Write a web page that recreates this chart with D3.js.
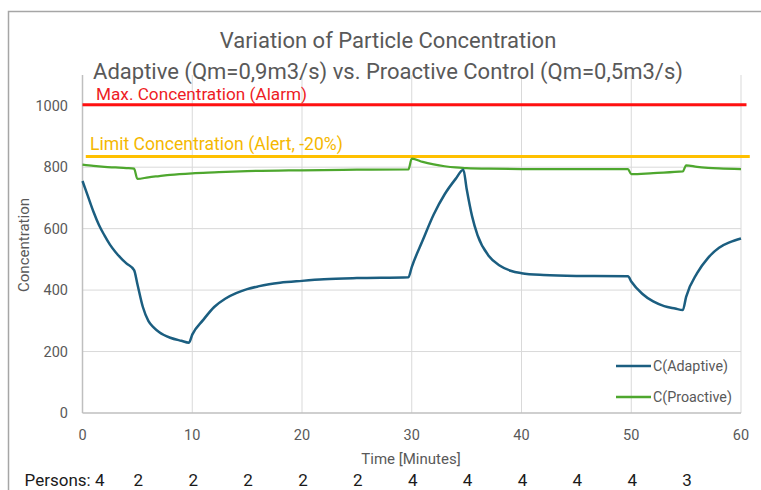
<!DOCTYPE html>
<html>
<head>
<meta charset="utf-8">
<script src="https://cdn.jsdelivr.net/npm/d3@7"></script>
<style>
  body { margin: 0; background: #fff; }
  text { font-family: Roboto, "Noto Sans", sans-serif; }
</style>
</head>
<body>
<svg id="chart" width="761" height="490"></svg>
<script>
// values
const adaptiveT = [0, 0.5, 1, 1.5, 2, 2.5, 3, 3.5, 4, 4.7, 5, 5.5, 6, 6.5, 7, 8, 9, 9.7, 10, 11, 12, 13, 14, 15, 16, 17, 18, 20, 22, 25, 29.7,
  30, 31, 32, 33, 34, 34.7, 35, 35.5, 36, 37, 38, 39, 40, 42, 45, 49.7, 50, 51, 52, 53, 54, 54.7, 55, 56, 57, 58, 59, 60]
const adaptiveC = [755, 705, 655, 612, 578, 548, 524, 504, 487, 465, 420, 345, 300, 278, 263, 245, 235, 229, 255, 303, 345, 372, 390, 403, 412, 419, 424, 430, 435, 439, 442,
  475, 562, 646, 712, 762, 792, 730, 640, 578, 512, 480, 463, 455, 449, 446, 445, 428, 388, 363, 348, 340, 335, 378, 455, 505, 538, 556, 568]

const proactiveT = [0, 1, 2, 3, 4, 4.7, 5, 6, 7, 8, 10, 12, 15, 20, 25, 29.7, 30, 31, 32, 33, 34, 35, 37, 40, 45, 49.7, 50, 52, 54.7, 55, 56, 57, 58, 60]
const proactiveC = [808, 804, 801, 799, 797, 795, 762, 767, 771, 775, 780, 783, 787, 790, 792, 793, 828, 817, 809, 803, 799, 797, 795, 794, 794, 794, 777, 781, 786, 806, 801, 798, 796, 794]

const alarmT = [0, 60.5]
const alarmC = [1003, 1003]
const alertT = [0.3, 60.8]
const alertC = [835, 835]

const xTicks = [0, 10, 20, 30, 40, 50, 60]
const yTicks = [0, 200, 400, 600, 800, 1000]

const personsT = [0, 5, 10, 15, 20, 25, 30, 35, 40, 45, 50, 55]
const persons = [4, 2, 2, 2, 2, 2, 4, 4, 4, 4, 4, 3]

const svg = d3.select('#chart')
const gray = '#595959'

const x = d3.scaleLinear().domain([0, 60]).range([82.5, 741])
const y = d3.scaleLinear().domain([0, 1100]).range([413, 75])

// outer frame (cropped at right/bottom)
svg.append('path')
  .attr('d', 'M8.5,490V11.5H761')
  .attr('fill', 'none')
  .attr('stroke', '#a6a6a6')
  .attr('stroke-width', 1.5)

// grid
svg.append('g').selectAll('line')
  .data(yTicks.slice(1))
  .join('line')
  .attr('x1', x(0)).attr('x2', x(60))
  .attr('y1', d => y(d)).attr('y2', d => y(d))
  .attr('stroke', '#d9d9d9')
svg.append('g').selectAll('line')
  .data(xTicks.slice(1))
  .join('line')
  .attr('x1', d => x(d)).attr('x2', d => x(d))
  .attr('y1', y(1100)).attr('y2', y(0))
  .attr('stroke', '#d9d9d9')

// axis lines
svg.append('line')
  .attr('x1', x(0)).attr('x2', x(0)).attr('y1', y(1100)).attr('y2', y(0))
  .attr('stroke', '#bfbfbf').attr('stroke-width', 1.5)
svg.append('line')
  .attr('x1', x(0)).attr('x2', x(60)).attr('y1', y(0)).attr('y2', y(0))
  .attr('stroke', '#bfbfbf').attr('stroke-width', 1.5)

// tick labels
svg.append('g').selectAll('text')
  .data(yTicks)
  .join('text')
  .attr('x', 68).attr('y', d => y(d) + 5)
  .attr('text-anchor', 'end')
  .attr('font-size', 14.5)
  .attr('fill', gray)
  .text(d => d)
svg.append('g').selectAll('text')
  .data(xTicks)
  .join('text')
  .attr('x', d => x(d)).attr('y', 440)
  .attr('text-anchor', 'middle')
  .attr('font-size', 14.5)
  .attr('fill', gray)
  .text(d => d)

svg.append('text')
  .attr('transform', 'translate(29,245) rotate(-90)')
  .attr('text-anchor', 'middle')
  .attr('font-size', 15)
  .attr('fill', gray)
  .text('Concentration')
svg.append('text')
  .attr('x', 411).attr('y', 464)
  .attr('text-anchor', 'middle')
  .attr('font-size', 15)
  .attr('fill', gray)
  .text('Time [Minutes]')

// titles
svg.append('text')
  .attr('x', 388).attr('y', 48)
  .attr('text-anchor', 'middle')
  .attr('font-size', 22)
  .attr('fill', gray)
  .text('Variation of Particle Concentration')
svg.append('text')
  .attr('x', 388).attr('y', 79)
  .attr('text-anchor', 'middle')
  .attr('font-size', 22)
  .attr('fill', gray)
  .text('Adaptive (Qm=0,9m3/s) vs. Proactive Control (Qm=0,5m3/s)')

// threshold lines
const thr = (ts, cs) => d3.line().x((d, i) => x(ts[i])).y((d, i) => y(cs[i]))(ts)
svg.append('path')
  .attr('d', thr(alarmT, alarmC))
  .attr('stroke', '#ff1010').attr('stroke-width', 3).attr('fill', 'none')
svg.append('path')
  .attr('d', thr(alertT, alertC))
  .attr('stroke', '#ffc000').attr('stroke-width', 3).attr('fill', 'none')
svg.append('text')
  .attr('x', 96).attr('y', 100)
  .attr('font-size', 17.2)
  .attr('fill', '#ee1c25')
  .text('Max. Concentration (Alarm)')
svg.append('text')
  .attr('x', 90).attr('y', 150)
  .attr('font-size', 17.6)
  .attr('fill', '#f5b800')
  .text('Limit Concentration (Alert, -20%)')

// series
const line = (ts, cs) => d3.line()
  .x((d, i) => x(ts[i]))
  .y((d, i) => y(cs[i]))
  .curve(d3.curveMonotoneX)(ts)

svg.append('path')
  .attr('d', line(proactiveT, proactiveC))
  .attr('fill', 'none').attr('stroke', '#4ea72e').attr('stroke-width', 2.25)
svg.append('path')
  .attr('d', line(adaptiveT, adaptiveC))
  .attr('fill', 'none').attr('stroke', '#1b5e80').attr('stroke-width', 2.5)

// legend
const legend = [['C(Adaptive)', '#1b5e80', 366], ['C(Proactive)', '#4ea72e', 397]]
legend.forEach(([name, col, ly]) => {
  svg.append('line')
    .attr('x1', 616).attr('x2', 651).attr('y1', ly).attr('y2', ly)
    .attr('stroke', col).attr('stroke-width', 2.5)
  svg.append('text')
    .attr('x', 653).attr('y', ly + 5)
    .attr('font-size', 14.3)
    .attr('fill', gray)
    .text(name)
})

// persons row
svg.append('g').selectAll('text')
  .data(persons)
  .join('text')
  .attr('x', (d, i) => i === 0 ? x(personsT[i]) + 22 : x(personsT[i]) + 1)
  .attr('y', 486)
  .attr('text-anchor', (d, i) => i === 0 ? 'end' : 'middle')
  .attr('font-size', 17)
  .attr('fill', '#1a1a1a')
  .text((d, i) => i === 0 ? 'Persons: ' + d : d)
</script>
</body>
</html>
